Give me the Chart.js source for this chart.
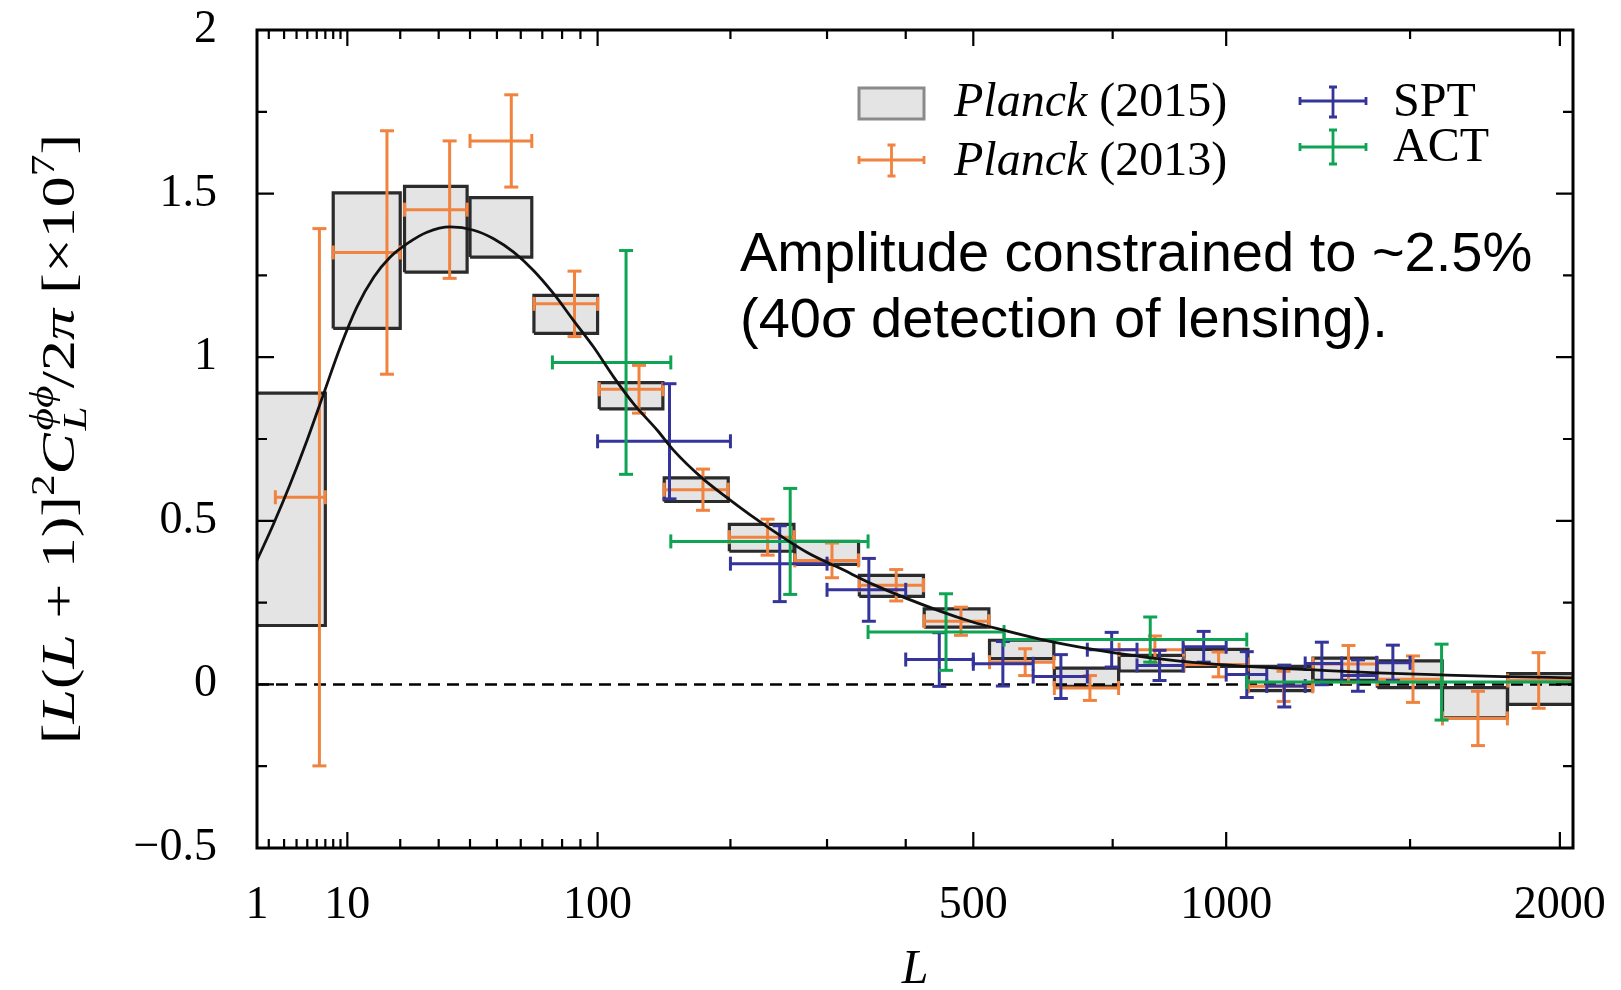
<!DOCTYPE html>
<html lang="en">
  <head>
    <meta charset="UTF-8" />
    <title>Lensing potential power spectrum</title>
    <script src="https://cdn.jsdelivr.net/npm/chart.js"></script>
    <style>
      html,
      body {
        margin: 0;
        padding: 0;
        background: #fff;
      }
    </style>
  </head>
  <body>
    <canvas id="myChart" width="1621" height="990"></canvas>

    <script>
      // the L axis is linear in L^0.4
      const POW = 0.4;
      const toU = (L) => Math.pow(L, POW);
      const L_MIN = 1.39;
      const L_MAX = 2048;

      const SERIF = "'Liberation Serif', 'DejaVu Serif', serif";
      const SANS = "'Liberation Sans', Arial, sans-serif";

      // axis ticks
      const xTickL = [L_MIN, 10, 100, 500, 1000, 2000];
      const xTickText = ["1", "10", "100", "500", "1000", "2000"];
      const xMinorL = [2, 3, 4, 5, 6, 7, 8, 9, 20, 30, 40, 50, 60, 70, 80, 90, 200, 300, 400, 750, 1500];
      const yMajor = [-0.5, 0, 0.5, 1, 1.5, 2];
      const yMinor = [-0.25, 0.25, 0.75, 1.25, 1.75];

      // Planck 2015 bandpowers (grey boxes)
      const p15Lo = [1, 8, 21, 40, 66, 101, 145, 199, 264, 339, 426, 526, 638, 763, 902, 1054, 1221, 1402, 1601, 1816];
      const p15Hi = [7, 20, 39, 65, 100, 144, 198, 263, 338, 425, 525, 637, 762, 901, 1053, 1220, 1401, 1600, 1815, 2048];
      const p15Val = [0.535, 1.295, 1.391, 1.397, 1.131, 0.882, 0.595, 0.448, 0.402, 0.301, 0.203, 0.107, 0.022, 0.065, 0.081, 0.018, 0.046, 0.031, -0.056, -0.014];
      const p15Err = [0.355, 0.207, 0.131, 0.091, 0.058, 0.04, 0.036, 0.041, 0.035, 0.032, 0.028, 0.028, 0.028, 0.024, 0.026, 0.037, 0.034, 0.041, 0.046, 0.047];

      // Planck 2013
      const p13L = [6.3, 17.1, 33.3, 55.9, 86.7, 126.8, 175.9, 235.6, 305.8, 387, 480.7, 586, 705, 838, 982, 1143, 1319, 1509, 1716, 1924];
      const p13Lo = [2.4, 8, 21, 40, 66, 101, 145, 199, 264, 339, 426, 526, 638, 763, 902, 1054, 1221, 1402, 1601, 1816];
      const p13Hi = [7, 20, 39, 65, 100, 144, 198, 263, 338, 425, 525, 637, 762, 901, 1053, 1220, 1401, 1600, 1815, 2048];
      const p13Val = [0.572, 1.32, 1.451, 1.661, 1.163, 0.902, 0.595, 0.45, 0.379, 0.303, 0.193, 0.068, -0.011, 0.106, 0.061, -0.006, 0.062, 0.016, -0.104, 0.012];
      const p13Err = [0.821, 0.372, 0.21, 0.141, 0.1, 0.073, 0.063, 0.055, 0.053, 0.048, 0.043, 0.041, 0.038, 0.042, 0.038, 0.046, 0.057, 0.071, 0.083, 0.085];

      // SPT
      const sptL = [149, 248, 351, 448, 548, 650, 748, 848, 947, 1050, 1145, 1245, 1346, 1448];
      const sptLo = [100, 200, 300, 400, 500, 600, 700, 800, 900, 1000, 1100, 1200, 1300, 1400];
      const sptHi = [200, 300, 400, 500, 600, 700, 800, 900, 1000, 1100, 1200, 1300, 1400, 1500];
      const sptVal = [0.743, 0.369, 0.289, 0.076, 0.063, 0.024, 0.106, 0.058, 0.115, 0.03, -0.005, 0.064, 0.027, 0.066];
      const sptErr = [0.176, 0.116, 0.096, 0.082, 0.068, 0.067, 0.053, 0.046, 0.047, 0.07, 0.064, 0.065, 0.048, 0.054];

      // ACT
      const actL = [118, 259, 458, 828, 1598];
      const actLo = [75, 150, 350, 550, 1050];
      const actHi = [150, 350, 550, 1050, 2050];
      const actVal = [0.984, 0.437, 0.16, 0.137, 0.007];
      const actErr = [0.342, 0.162, 0.117, 0.069, 0.116];

      // fiducial model curve
      const curveL = [1.39, 2.29, 3.48, 4.98, 6.79, 8.97, 11.5, 14.5, 17.8, 21.6, 26.7, 33.5, 41.3, 48.7, 56.9, 65.8, 75.6, 86.2, 97.6, 110, 123, 140, 152, 176, 198, 224, 277, 316, 357, 449, 500, 544, 628, 750, 892, 1050, 1212, 1400, 1598, 1800, 2048];
      const curveV = [0.379, 0.491, 0.613, 0.746, 0.888, 1.031, 1.153, 1.245, 1.306, 1.347, 1.382, 1.398, 1.388, 1.362, 1.321, 1.265, 1.194, 1.112, 1.031, 0.939, 0.858, 0.776, 0.716, 0.628, 0.568, 0.506, 0.404, 0.354, 0.305, 0.224, 0.19, 0.168, 0.132, 0.097, 0.071, 0.055, 0.045, 0.035, 0.029, 0.024, 0.02];

      const ORANGE = "#f0833f";
      const BLUE = "#34349a";
      const GREEN = "#0fa453";

      // one closed rectangle per bandpower
      const boxSets = p15Lo.map((lo, i) => {
        const hi = p15Hi[i];
        const top = p15Val[i] + p15Err[i];
        const bot = p15Val[i] - p15Err[i];
        return {
          data: [
            { x: toU(lo), y: bot },
            { x: toU(lo), y: top },
            { x: toU(hi), y: top },
            { x: toU(hi), y: bot },
            { x: toU(lo), y: bot },
          ],
          borderColor: "#2b2b2b",
          borderWidth: 3.2,
          borderJoinStyle: "miter",
          backgroundColor: "#e4e4e4",
          fill: "shape",
          pointRadius: 0,
          tension: 0,
          order: 10,
        };
      });

      // crosses: horizontal bar over the L range, vertical bar for the error
      function errorBars(label, color, Lc, lo, hi, val, err, order) {
        const pts = [];
        Lc.forEach((L, i) => {
          pts.push({ x: toU(lo[i]), y: val[i], cap: 90 });
          pts.push({ x: toU(hi[i]), y: val[i], cap: 90 });
          pts.push({ x: toU(hi[i]), y: null });
          pts.push({ x: toU(L), y: val[i] - err[i], cap: 0 });
          pts.push({ x: toU(L), y: val[i] + err[i], cap: 0 });
          pts.push({ x: toU(L), y: null });
        });
        return {
          label: label,
          data: pts,
          borderColor: color,
          borderWidth: 3,
          fill: false,
          spanGaps: false,
          tension: 0,
          pointStyle: "line",
          pointRadius: (c) => (c.raw && c.raw.cap !== undefined ? 7 : 0),
          pointRotation: (c) => (c.raw && c.raw.cap ? c.raw.cap : 0),
          pointBorderColor: color,
          pointBorderWidth: 3,
          order: order,
        };
      }

      const zeroSet = {
        data: [
          { x: toU(L_MIN), y: 0 },
          { x: toU(L_MAX), y: 0 },
        ],
        borderColor: "#000",
        borderWidth: 2.5,
        borderDash: [12, 7],
        pointRadius: 0,
        fill: false,
        order: 4,
      };

      const curveSet = {
        data: curveL.map((L, i) => ({ x: toU(L), y: curveV[i] })),
        borderColor: "#111",
        borderWidth: 2.8,
        cubicInterpolationMode: "monotone",
        pointRadius: 0,
        fill: false,
        order: 0,
      };

      // frame with inward ticks on all four sides
      const framePlugin = {
        id: "frame",
        afterDatasetsDraw(chart) {
          const { ctx, chartArea: a, scales } = chart;
          const x = scales.x;
          const y = scales.y;
          ctx.save();
          ctx.strokeStyle = "#000";
          ctx.lineWidth = 2.2;
          ctx.beginPath();
          const xt = (L, len) => {
            const px = x.getPixelForValue(toU(L));
            ctx.moveTo(px, a.bottom);
            ctx.lineTo(px, a.bottom - len);
            ctx.moveTo(px, a.top);
            ctx.lineTo(px, a.top + len);
          };
          xTickL.slice(1).forEach((L) => xt(L, 16));
          xMinorL.forEach((L) => xt(L, 9));
          const yt = (v, len) => {
            const py = y.getPixelForValue(v);
            ctx.moveTo(a.left, py);
            ctx.lineTo(a.left + len, py);
            ctx.moveTo(a.right, py);
            ctx.lineTo(a.right - len, py);
          };
          yMajor.forEach((v) => yt(v, 17));
          yMinor.forEach((v) => yt(v, 10));
          ctx.stroke();
          ctx.lineWidth = 3;
          ctx.strokeRect(a.left, a.top, a.right - a.left, a.bottom - a.top);
          ctx.restore();
        },
      };

      // y-axis label, legend and note
      const textPlugin = {
        id: "texts",
        afterDraw(chart) {
          const ctx = chart.ctx;
          ctx.save();
          ctx.fillStyle = "#000";
          ctx.textBaseline = "alphabetic";

          // [L(L+1)]^2 C_L^{phi phi}/2pi [x10^7]
          const F = 47;
          const font = (it, k) => (it ? "italic " : "") + Math.round(F * k) + "px " + SERIF;
          const parts = [
            { t: "[", it: false, k: 1, dy: 0 },
            { t: "L", it: true, k: 1, dy: 0 },
            { t: "(", it: false, k: 1, dy: 0 },
            { t: "L", it: true, k: 1, dy: 0 },
            { t: " + 1)]", it: false, k: 1, dy: 0 },
            { t: "2", it: false, k: 0.7, dy: -0.42 },
            { t: "C", it: true, k: 1, dy: 0 },
            { stack: [
                { t: "\u03d5\u03d5", it: true, k: 0.7, dy: -0.45 },
                { t: "L", it: true, k: 0.7, dy: 0.25 },
              ] },
            { t: "/2", it: false, k: 1, dy: 0 },
            { t: "\u03c0", it: true, k: 1, dy: 0 },
            { t: " [\u00d710", it: false, k: 1, dy: 0 },
            { t: "7", it: false, k: 0.7, dy: -0.42 },
            { t: "]", it: false, k: 1, dy: 0 },
          ];
          const width = (p) => {
            if (p.stack) return Math.max(...p.stack.map(width));
            ctx.font = font(p.it, p.k);
            return ctx.measureText(p.t).width;
          };
          const total = parts.reduce((s, p) => s + width(p), 0);
          const sx = 610 / total;
          ctx.save();
          ctx.translate(74, 439);
          ctx.rotate(-Math.PI / 2);
          ctx.scale(sx, 1);
          let cx = -total / 2;
          const put = (p, at) => {
            ctx.font = font(p.it, p.k);
            ctx.fillText(p.t, at, p.dy * F);
          };
          parts.forEach((p) => {
            if (p.stack) p.stack.forEach((q) => put(q, cx + 2));
            else put(p, cx);
            cx += width(p);
          });
          ctx.restore();

          // legend
          const LF = 48;
          const legendText = (it, rest, x0, base) => {
            ctx.font = "italic " + LF + "px " + SERIF;
            ctx.fillText(it, x0, base);
            const w = it ? ctx.measureText(it).width : 0;
            ctx.font = LF + "px " + SERIF;
            ctx.fillText(rest, x0 + w, base);
          };
          const cross = (color, x0, x1, yc, y0, y1) => {
            ctx.strokeStyle = color;
            ctx.lineWidth = 2.8;
            const xm = (x0 + x1) / 2;
            ctx.beginPath();
            ctx.moveTo(x0, yc);
            ctx.lineTo(x1, yc);
            ctx.moveTo(xm, y0);
            ctx.lineTo(xm, y1);
            ctx.moveTo(x0, yc - 4);
            ctx.lineTo(x0, yc + 4);
            ctx.moveTo(x1, yc - 4);
            ctx.lineTo(x1, yc + 4);
            ctx.moveTo(xm - 4, y0);
            ctx.lineTo(xm + 4, y0);
            ctx.moveTo(xm - 4, y1);
            ctx.lineTo(xm + 4, y1);
            ctx.stroke();
          };
          ctx.fillStyle = "#e4e4e4";
          ctx.fillRect(859, 88, 65, 31);
          ctx.strokeStyle = "#8a8a8a";
          ctx.lineWidth = 3;
          ctx.strokeRect(859, 88, 65, 31);
          ctx.fillStyle = "#000";
          legendText("Planck", " (2015)", 954, 116);
          cross(ORANGE, 859, 924, 160, 145, 176);
          legendText("Planck", " (2013)", 954, 175);
          cross(BLUE, 1300, 1366, 101, 87, 117);
          legendText("", "SPT", 1393, 116);
          cross(GREEN, 1300, 1366, 147, 130, 164);
          legendText("", "ACT", 1393, 161);

          // note
          ctx.font = "56px " + SANS;
          ctx.fillText("Amplitude constrained to ~2.5%", 740, 271);
          ctx.fillText("(40\u03c3 detection of lensing).", 740, 337);
          ctx.restore();
        },
      };

      new Chart(document.getElementById("myChart"), {
        type: "line",
        data: {
          datasets: [
            curveSet,
            errorBars("ACT", GREEN, actL, actLo, actHi, actVal, actErr, 1),
            errorBars("SPT", BLUE, sptL, sptLo, sptHi, sptVal, sptErr, 2),
            errorBars("Planck (2013)", ORANGE, p13L, p13Lo, p13Hi, p13Val, p13Err, 3),
            zeroSet,
            ...boxSets,
          ],
        },
        options: {
          responsive: false,
          animation: false,
          events: [],
          layout: { padding: { top: 30, right: 48, left: 0, bottom: 0 } },
          plugins: {
            legend: { display: false },
            tooltip: { enabled: false },
          },
          scales: {
            x: {
              type: "linear",
              min: toU(L_MIN),
              max: toU(L_MAX),
              grid: { display: false, drawTicks: false },
              border: { display: false },
              afterBuildTicks: (s) => {
                s.ticks = xTickL.map((L) => ({ value: toU(L) }));
              },
              afterFit: (s) => {
                s.height = 142;
                s.paddingLeft = 0;
                s.paddingRight = 0;
              },
              ticks: {
                autoSkip: false,
                maxRotation: 0,
                padding: 30,
                color: "#000",
                font: { family: SERIF, size: 46 },
                callback: (v, i) => xTickText[i],
              },
              title: {
                display: true,
                text: "L",
                color: "#000",
                padding: 0,
                font: { family: SERIF, size: 48, style: "italic", lineHeight: 0.8 },
              },
            },
            y: {
              min: -0.5,
              max: 2,
              grid: { display: false, drawTicks: false },
              border: { display: false },
              afterFit: (s) => {
                s.width = 257;
                s.paddingTop = 0;
                s.paddingBottom = 0;
              },
              ticks: {
                stepSize: 0.5,
                padding: 40,
                color: "#000",
                font: { family: SERIF, size: 46 },
                callback: (v) => (v < 0 ? "\u2212" + -v : String(v)),
              },
            },
          },
        },
        plugins: [framePlugin, textPlugin],
      });
    </script>
  </body>
</html>
